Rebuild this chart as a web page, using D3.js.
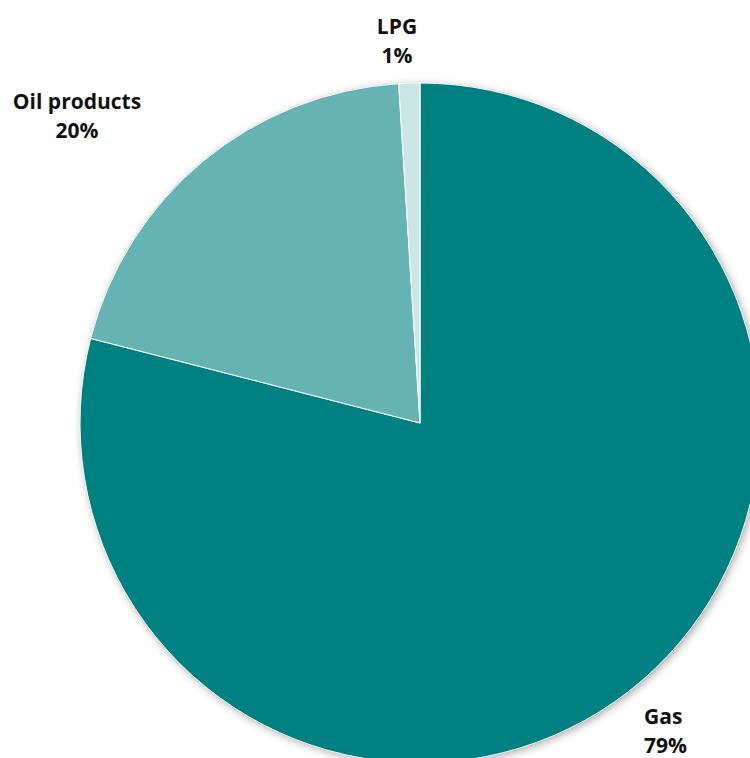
<!DOCTYPE html>
<html>
<head>
<meta charset="utf-8">
<script src="https://cdn.jsdelivr.net/npm/d3@7/dist/d3.min.js"></script>
<style>
  html, body { margin: 0; padding: 0; background: #fff; }
  svg { display: block; }
  text { font-family: "Open Sans", "Noto Sans", sans-serif; font-weight: 700; fill: #111; }
</style>
</head>
<body>
<svg id="chart" width="750" height="758"></svg>
<script>
// Energy sources share (%)
const categories = ["Gas", "Oil products", "LPG"];
const values = [79, 20, 1];
const colors = ["#008080", "#66b3b3", "#cce6e6"];

const width = 750, height = 758;
const cx = 420, cy = 423, radius = 340;

const svg = d3.select("#chart");

const defs = svg.append("defs");
const shadow = defs.append("filter").attr("id", "shadow")
  .attr("x", "-10%").attr("y", "-10%").attr("width", "120%").attr("height", "120%");
shadow.append("feDropShadow")
  .attr("dx", 2).attr("dy", 2).attr("stdDeviation", 4)
  .attr("flood-color", "#000").attr("flood-opacity", 0.35);

const data = categories.map((c, i) => ({ name: c, value: values[i], color: colors[i] }));

const pie = d3.pie().value(d => d.value).sort(null);
const arc = d3.arc().innerRadius(0).outerRadius(radius);

const g = svg.append("g").attr("transform", `translate(${cx},${cy})`);

g.append("circle").attr("r", radius).attr("fill", "#008080").attr("filter", "url(#shadow)");

g.selectAll("path.slice")
  .data(pie(data))
  .join("path")
  .attr("class", "slice")
  .attr("d", arc)
  .attr("fill", d => d.data.color)
  .attr("stroke", "#fff")
  .attr("stroke-width", 1);

// Labels: name on the first line, share on the second
const labels = [
  { name: "LPG", x: 397, y: 34, anchor: "middle" },
  { name: "Oil products", x: 77, y: 109, anchor: "middle" },
  { name: "Gas", x: 644, y: 724, anchor: "start" }
];
labels.forEach(l => {
  const d = data.find(e => e.name === l.name);
  const t = svg.append("text")
    .attr("x", l.x).attr("y", l.y)
    .attr("text-anchor", l.anchor)
    .attr("font-size", 21);
  t.append("tspan").attr("x", l.x).text(d.name);
  t.append("tspan").attr("x", l.x).attr("dy", 29).text(d.value + "%");
});
</script>
</body>
</html>
